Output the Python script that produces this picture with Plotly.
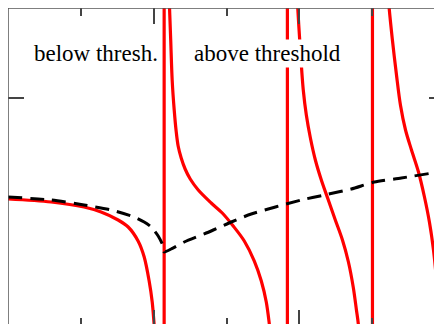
import plotly.graph_objects as go

# Red curve branches (data units)
b0_x = [0.000, 0.296, 0.522, 0.639, 0.756, 0.825, 0.893, 0.935, 0.969, 0.990, 1.003, 1.017]
b0_y = [-1.01, -1.04, -1.09, -1.14, -1.22, -1.29, -1.43, -1.59, -1.83, -2.04, -2.26, -2.52]
b1_x = [1.093, 1.107, 1.117, 1.127, 1.141, 1.155, 1.168, 1.189, 1.216, 1.251, 1.306, 1.395,
        1.471, 1.546, 1.622, 1.691, 1.739, 1.773, 1.794, 1.821]
b1_y = [1.58, 0.98, 0.58, 0.18, -0.12, -0.34, -0.48, -0.60, -0.71, -0.81, -0.92, -1.05,
        -1.15, -1.28, -1.43, -1.63, -1.83, -2.04, -2.26, -2.62]
b2_x = [1.973, 1.986, 2.007, 2.027, 2.048, 2.076, 2.110, 2.151, 2.199, 2.247, 2.296, 2.337,
        2.371, 2.392, 2.405, 2.426]
b2_y = [1.38, 0.98, 0.48, 0.08, -0.17, -0.40, -0.62, -0.82, -1.02, -1.22, -1.42, -1.64,
        -1.90, -2.12, -2.26, -2.62]
b3_x = [2.598, 2.612, 2.639, 2.667, 2.694, 2.729, 2.770, 2.818, 2.859, 2.893, 2.921, 2.942,
        2.955, 2.962]
b3_y = [1.38, 0.98, 0.58, 0.23, -0.07, -0.32, -0.52, -0.74, -0.99, -1.24, -1.52, -1.84,
        -2.26, -2.62]
branches = [(b0_x, b0_y), (b1_x, b1_y), (b2_x, b2_y), (b3_x, b3_y)]

# Pole positions where the red curve jumps from -inf to +inf
poles = [1.072, 1.918, 2.502]
pole_lo, pole_hi = -4.0, 3.0

# Dashed threshold curve
dash_x = [0.000, 0.296, 0.522, 0.708, 0.866, 0.935, 0.983, 1.031, 1.065, 1.072,
          1.120, 1.210, 1.395, 1.533, 1.670, 2.014, 2.172, 2.357, 2.515, 2.700, 3.000]
dash_y = [-0.99, -1.02, -1.07, -1.12, -1.19, -1.24, -1.29, -1.38, -1.48, -1.54,
          -1.51, -1.44, -1.33, -1.24, -1.16, -1.02, -0.97, -0.91, -0.84, -0.80, -0.73]

x_range = [0, 3.0]
y_range = [-2.28, 0.90]
y_ticks = [0]
labels = ["below thresh.", "above threshold"]
label_x = [0.605, 1.78]
label_y = [0.45, 0.45]

red = dict(color="#ff0000", width=3.2)
fig = go.Figure()
for bx, by in branches:
    fig.add_trace(go.Scatter(x=bx, y=by, mode="lines", line=dict(**red, shape="spline",
                             smoothing=0.9), showlegend=False))
for p in poles:
    fig.add_trace(go.Scatter(x=[p, p], y=[pole_lo, pole_hi], mode="lines", line=red,
                             showlegend=False))
fig.add_trace(go.Scatter(x=dash_x, y=dash_y, mode="lines",
                         line=dict(color="black", width=3, dash="14px,8px", shape="spline",
                                   smoothing=0.6), showlegend=False))

fig.add_annotation(x=label_x[0], y=label_y[0], text=labels[0], showarrow=False,
                   font=dict(family="Liberation Serif", size=23, color="black"))
fig.add_annotation(x=label_x[1], y=label_y[1], text=labels[1], showarrow=False,
                   bgcolor="white", borderpad=1,
                   font=dict(family="Liberation Serif", size=23, color="black"))

frame = dict(color="#555555", width=1.5)
fig.add_shape(type="line", xref="paper", yref="paper", x0=0, x1=1, y0=1, y1=1, line=frame)
fig.add_shape(type="line", xref="paper", yref="paper", x0=0, x1=0, y0=0, y1=1, line=frame)

fig.update_xaxes(range=x_range, showgrid=False, zeroline=False, showline=False,
                 showticklabels=False, ticks="inside", ticklen=16, tickwidth=1.5,
                 tickcolor="#444444", dtick=1, tick0=0, mirror="ticks",
                 minor=dict(ticks="inside", ticklen=8, tickwidth=1.5, tickcolor="#444444",
                            dtick=0.5, tick0=0, showgrid=False))
fig.update_yaxes(range=y_range, showgrid=False, zeroline=False, showline=False,
                 showticklabels=False, ticks="inside", ticklen=16, tickwidth=1.5,
                 tickcolor="#444444", tickvals=y_ticks, mirror="ticks")

fig.update_layout(width=437, height=318, margin=dict(l=0, r=0, t=0, b=0),
                  plot_bgcolor="white", paper_bgcolor="white")
fig.write_html("out.html")
